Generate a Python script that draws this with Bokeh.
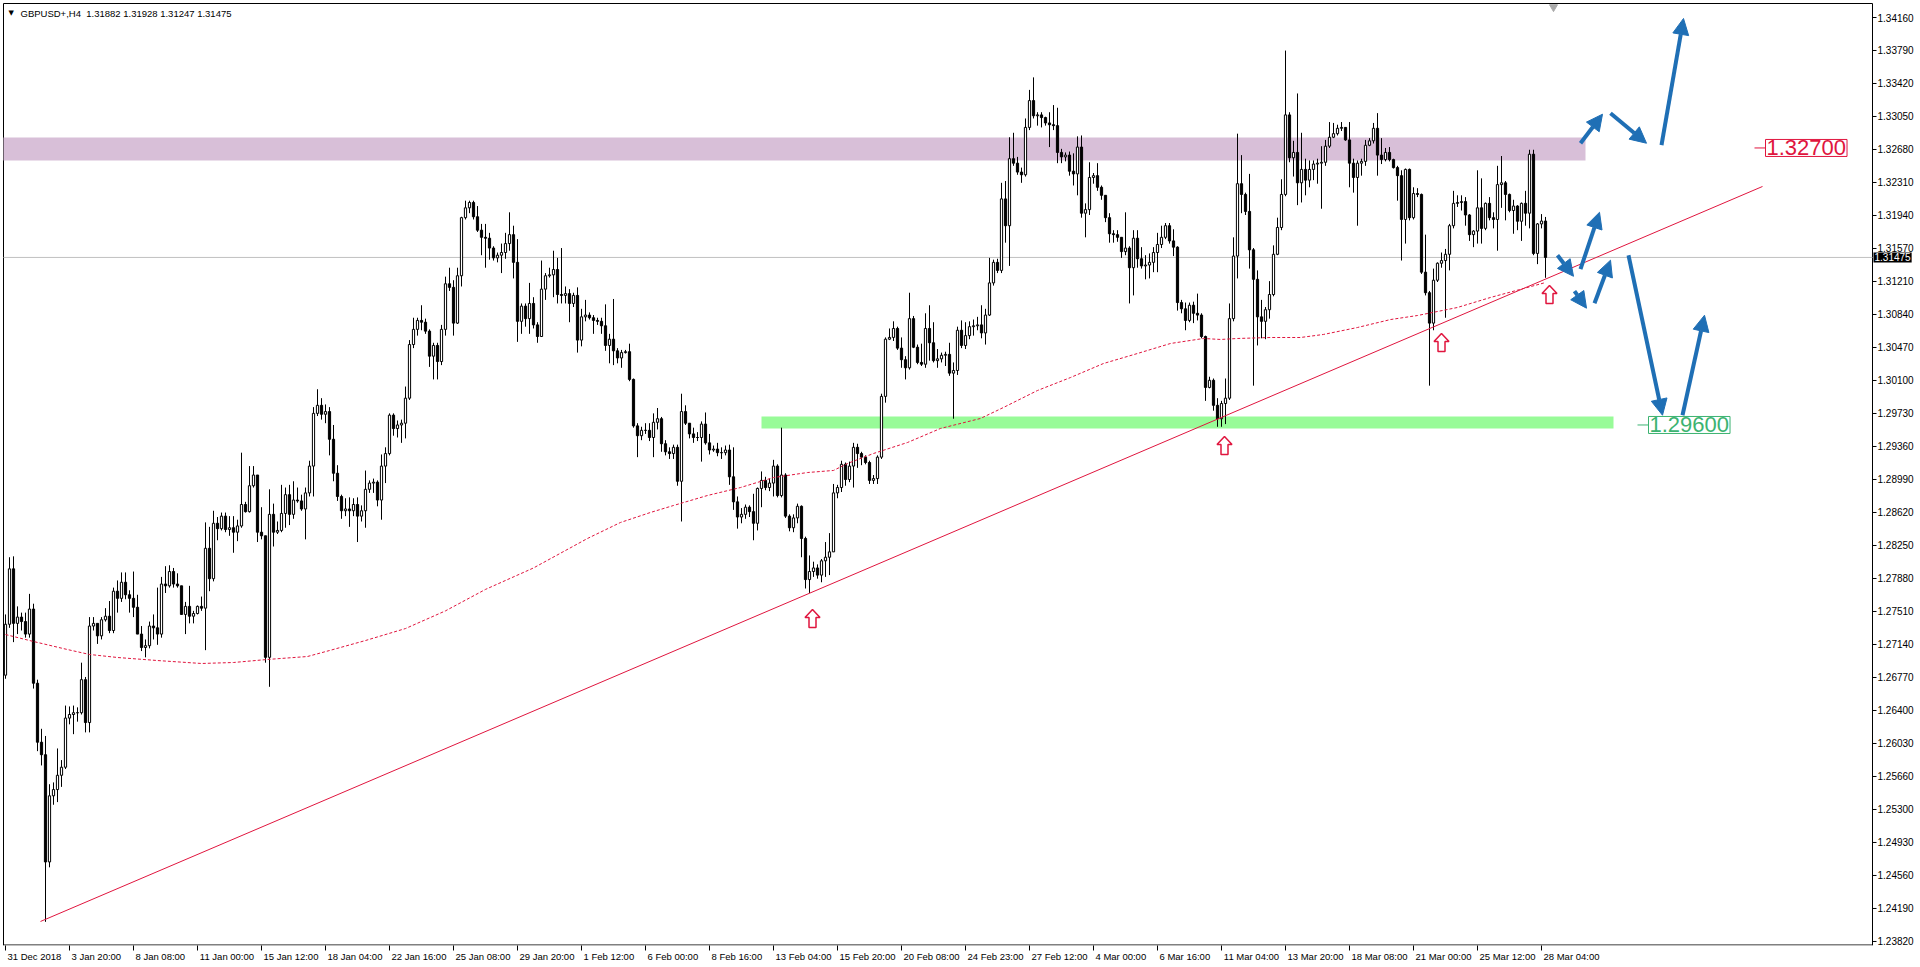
from bokeh.plotting import figure
from bokeh.models import (ColumnDataSource, Range1d, FixedTicker, Label, LinearAxis,
                          Arrow, NormalHead, CustomJSTickFormatter)
from bokeh.embed import file_html
from bokeh.resources import INLINE
from bokeh.core.properties import value

# ---------------- data (prices in 0.0001 units) ----------------
PIP = 10000.0
first_open = 12680
closes = [
    12737, 12799, 12738, 12745, 12740, 12726, 12754, 12671, 12605, 12591,
    12471, 12545, 12552, 12568, 12577, 12632, 12636, 12638, 12638, 12675,
    12627, 12735, 12738, 12724, 12742, 12746, 12730, 12774, 12766, 12784,
    12770, 12766, 12756, 12726, 12711, 12713, 12735, 12733, 12726, 12782,
    12780, 12796, 12782, 12780, 12748, 12757, 12746, 12749, 12757, 12755,
    12822, 12788, 12850, 12844, 12858, 12843, 12845, 12840, 12847, 12871,
    12863, 12892, 12904, 12840, 12836, 12700, 12860, 12840, 12842, 12861,
    12882, 12860, 12876, 12875, 12866, 12884, 12914, 12973, 12982, 12972,
    12975, 12944, 12906, 12880, 12864, 12866, 12864, 12871, 12858, 12864,
    12888, 12895, 12896, 12876, 12914, 12928, 12971, 12956, 12960, 12962,
    12990, 13050, 13067, 13077, 13075, 13065, 13037, 13049, 13031, 13067,
    13118, 13114, 13074, 13127, 13192, 13203, 13209, 13193, 13178, 13170,
    13169, 13158, 13147, 13150, 13153, 13163, 13173, 13142, 13076, 13093,
    13079, 13096, 13072, 13059, 13112, 13127, 13128, 13134, 13106, 13105,
    13107, 13096, 13105, 13055, 13081, 13083, 13080, 13077, 13076, 13071,
    13049, 13056, 13043, 13035, 13041, 13042, 13011, 12959, 12948, 12954,
    12954, 12946, 12963, 12967, 12939, 12930, 12928, 12935, 12897, 12975,
    12962, 12950, 12946, 12946, 12961, 12940, 12932, 12933, 12929, 12929,
    12932, 12902, 12874, 12857, 12860, 12868, 12863, 12850, 12889, 12898,
    12890, 12895, 12914, 12881, 12904, 12858, 12845, 12856, 12869, 12833,
    12787, 12796, 12800, 12792, 12808, 12812, 12818, 12884, 12890, 12916,
    12899, 12914, 12935, 12928, 12924, 12918, 12898, 12900, 12924, 12992,
    13056, 13058, 13068, 13046, 13033, 13024, 13079, 13047, 13030, 13028,
    13068, 13052, 13032, 13034, 13038, 13039, 13018, 13021, 13066, 13049,
    13060, 13070, 13071, 13072, 13063, 13083, 13119, 13142, 13133, 13213,
    13183, 13258, 13253, 13243, 13240, 13293, 13323, 13306, 13307, 13304,
    13298, 13296, 13295, 13265, 13260, 13262, 13244, 13241, 13271, 13197,
    13201, 13237, 13239, 13226, 13217, 13192, 13174, 13173, 13170, 13154,
    13158, 13136, 13169, 13146, 13138, 13139, 13142, 13153, 13162, 13170,
    13183, 13166, 13159, 13097, 13090, 13077, 13094, 13085, 13083, 13059,
    13002, 13010, 12982, 12967, 12984, 12990, 13079, 13149, 13230, 13218,
    13199, 13156, 13123, 13081, 13076, 13089, 13106, 13151, 13181, 13218,
    13307, 13259, 13265, 13231, 13246, 13234, 13246, 13252, 13253, 13254,
    13272, 13282, 13286, 13292, 13293, 13279, 13253, 13237, 13253, 13255,
    13273, 13278, 13292, 13262, 13257, 13265, 13257, 13248, 13239, 13190,
    13246, 13192, 13219, 13218, 13131, 13108, 13074, 13122, 13141, 13144,
    13151, 13183, 13208, 13209, 13210, 13195, 13173, 13177, 13203, 13180,
    13208, 13192, 13190, 13229, 13231, 13218, 13200, 13205, 13188, 13208,
    13197, 13263, 13152, 13185, 13188.2, 13147.5,
]
highs = [
    12748, 12812, 12813, 12757, 12750, 12750, 12771, 12760, 12675, 12620,
    12612, 12558, 12560, 12598, 12585, 12646, 12645, 12646, 12644, 12694,
    12678, 12745, 12745, 12730, 12745, 12755, 12763, 12778, 12786, 12795,
    12795, 12775, 12796, 12770, 12735, 12720, 12740, 12748, 12778, 12790,
    12802, 12803, 12800, 12794, 12780, 12762, 12780, 12752, 12758, 12768,
    12851, 12846, 12864, 12857, 12862, 12862, 12858, 12858, 12854, 12929,
    12874, 12914, 12914, 12904, 12868, 12836, 12888, 12872, 12852, 12893,
    12890, 12893, 12897, 12890, 12882, 12890, 12920, 12980, 13000, 12990,
    12983, 12980, 12960, 12915, 12882, 12878, 12879, 12878, 12879, 12870,
    12909, 12898, 12900, 12898, 12927, 12935, 12973, 12973, 12965, 12966,
    13003, 13055, 13080, 13080, 13094, 13079, 13067, 13052, 13052, 13072,
    13126, 13136, 13122, 13136, 13193, 13211, 13211, 13211, 13205, 13185,
    13185, 13175, 13160, 13153, 13163, 13175, 13198, 13183, 13168, 13096,
    13096, 13119, 13103, 13075, 13144, 13130, 13136, 13155, 13147, 13158,
    13115, 13112, 13108, 13114, 13090, 13100, 13086, 13083, 13080, 13080,
    13095, 13062, 13101, 13046, 13044, 13044, 13051, 13012, 12962, 12958,
    12962, 12962, 12973, 12979, 12969, 12943, 12935, 12938, 12938, 12995,
    12982, 12962, 12957, 12952, 12964, 12974, 12950, 12937, 12940, 12935,
    12937, 12938, 12935, 12880, 12867, 12871, 12870, 12883, 12890, 12908,
    12902, 12900, 12921, 12916, 12957, 12906, 12860, 12860, 12872, 12870,
    12835, 12814, 12807, 12804, 12810, 12829, 12839, 12894, 12893, 12920,
    12918, 12919, 12940, 12939, 12930, 12926, 12920, 12904, 12926, 12995,
    13058, 13068, 13076, 13070, 13058, 13037, 13108, 13082, 13050, 13051,
    13085, 13094, 13075, 13045, 13041, 13042, 13052, 13030, 13070, 13077,
    13075, 13076, 13078, 13081, 13094, 13090, 13147, 13145, 13146, 13231,
    13233, 13282, 13287, 13260, 13248, 13303, 13335, 13349, 13310, 13310,
    13305, 13310, 13318, 13315, 13269, 13265, 13266, 13264, 13283, 13284,
    13208, 13254, 13242, 13253, 13228, 13217, 13197, 13178, 13178, 13170,
    13198, 13160, 13178, 13178, 13159, 13150, 13152, 13159, 13175, 13183,
    13186, 13186, 13179, 13160, 13100, 13097, 13097, 13098, 13107, 13085,
    13060, 13014, 13012, 12990, 12987, 13012, 13096, 13170, 13286, 13262,
    13220, 13241, 13158, 13133, 13100, 13092, 13121, 13161, 13192, 13235,
    13379, 13310, 13278, 13331, 13287, 13258, 13256, 13256, 13258, 13272,
    13279, 13299, 13298, 13296, 13299, 13293, 13299, 13258, 13256, 13258,
    13279, 13281, 13298, 13309, 13281, 13270, 13271, 13258, 13250, 13245,
    13247, 13247, 13226, 13225, 13219, 13173, 13110, 13135, 13142, 13153,
    13157, 13185, 13222, 13217, 13217, 13215, 13196, 13178, 13245, 13236,
    13209, 13215, 13198, 13250, 13261, 13233, 13219, 13212, 13206, 13209,
    13222, 13268, 13268, 13186, 13196, 13192.8,
]
lows = [
    12676, 12733, 12717, 12726, 12730, 12722, 12722, 12665, 12595, 12579,
    12404, 12465, 12535, 12538, 12555, 12575, 12625, 12614, 12628, 12636,
    12616, 12616, 12730, 12715, 12720, 12740, 12727, 12727, 12750, 12762,
    12765, 12750, 12745, 12726, 12707, 12700, 12710, 12720, 12714, 12722,
    12772, 12778, 12778, 12778, 12748, 12726, 12738, 12738, 12748, 12752,
    12708, 12774, 12785, 12831, 12842, 12840, 12836, 12817, 12830, 12845,
    12862, 12862, 12890, 12829, 12832, 12694, 12667, 12824, 12838, 12840,
    12845, 12848, 12855, 12873, 12864, 12832, 12880, 12880, 12970, 12966,
    12962, 12926, 12897, 12875, 12855, 12858, 12846, 12858, 12829, 12852,
    12845, 12884, 12884, 12869, 12854, 12895, 12926, 12948, 12946, 12940,
    12945, 12988, 13046, 13060, 13066, 13062, 13025, 13011, 13011, 13027,
    13060, 13110, 13060, 13073, 13115, 13190, 13197, 13190, 13176, 13150,
    13136, 13145, 13144, 13142, 13130, 13146, 13155, 13124, 13053, 13062,
    13070, 13062, 13068, 13052, 13059, 13100, 13125, 13103, 13096, 13096,
    13096, 13075, 13092, 13041, 13048, 13076, 13078, 13062, 13072, 13062,
    13043, 13029, 13027, 13029, 13024, 13040, 13009, 12957, 12924, 12943,
    12950, 12942, 12924, 12955, 12930, 12926, 12922, 12922, 12892, 12852,
    12960, 12945, 12940, 12942, 12919, 12938, 12927, 12930, 12925, 12922,
    12926, 12893, 12865, 12844, 12850, 12855, 12857, 12831, 12842, 12868,
    12887, 12886, 12880, 12879, 12879, 12856, 12841, 12840, 12850, 12812,
    12777, 12772, 12790, 12788, 12784, 12790, 12792, 12818, 12878, 12885,
    12892, 12896, 12890, 12912, 12915, 12916, 12894, 12894, 12894, 12922,
    12985, 13055, 13054, 13044, 13024, 13011, 13022, 13046, 13028, 13026,
    13024, 13032, 13030, 13024, 13030, 13026, 13015, 12967, 13016, 13046,
    13045, 13056, 13060, 13066, 13057, 13050, 13082, 13116, 13130, 13130,
    13164, 13138, 13250, 13240, 13231, 13238, 13290, 13303, 13295, 13293,
    13295, 13271, 13290, 13253, 13253, 13255, 13239, 13228, 13217, 13192,
    13170, 13195, 13230, 13222, 13212, 13187, 13164, 13164, 13165, 13147,
    13150, 13096, 13105, 13136, 13135, 13123, 13124, 13131, 13131, 13158,
    13168, 13163, 13149, 13088, 13085, 13066, 13075, 13074, 13077, 13057,
    12987, 13001, 12976, 12958, 12958, 12961, 12988, 13076, 13124, 13197,
    13195, 13135, 13004, 13049, 13057, 13056, 13079, 13104, 13150, 13178,
    13216, 13254, 13238, 13206, 13209, 13217, 13226, 13234, 13230, 13202,
    13250, 13270, 13281, 13284, 13289, 13278, 13226, 13220, 13183, 13239,
    13250, 13272, 13275, 13239, 13252, 13255, 13255, 13247, 13211, 13144,
    13163, 13189, 13190, 13215, 13129, 13105, 13004, 13066, 13120, 13136,
    13080, 13133, 13180, 13204, 13200, 13183, 13166, 13159, 13163, 13163,
    13178, 13189, 13180, 13155, 13203, 13189, 13198, 13174, 13178, 13166,
    13183, 13180, 13150, 13140, 13180, 13124.7,
]

x_tick_bars = [0, 16, 32, 48, 64, 80, 96, 112, 128, 144, 160, 176, 192, 208,
               224, 240, 256, 272, 288, 304, 320, 336, 352, 368, 384]
x_tick_labels = ["31 Dec 2018", "3 Jan 20:00", "8 Jan 08:00", "11 Jan 00:00",
                 "15 Jan 12:00", "18 Jan 04:00", "22 Jan 16:00", "25 Jan 08:00",
                 "29 Jan 20:00", "1 Feb 12:00", "6 Feb 00:00", "8 Feb 16:00",
                 "13 Feb 04:00", "15 Feb 20:00", "20 Feb 08:00", "24 Feb 23:00",
                 "27 Feb 12:00", "4 Mar 00:00", "6 Mar 16:00", "11 Mar 04:00",
                 "13 Mar 20:00", "18 Mar 08:00", "21 Mar 00:00", "25 Mar 12:00",
                 "28 Mar 04:00"]
y_tick_labels = ["1.23820", "1.24190", "1.24560", "1.24930", "1.25300", "1.25660",
                 "1.26030", "1.26400", "1.26770", "1.27140", "1.27510", "1.27880",
                 "1.28250", "1.28620", "1.28990", "1.29360", "1.29730", "1.30100",
                 "1.30470", "1.30840", "1.31210", "1.31570", "1.31940", "1.32310",
                 "1.32680", "1.33050", "1.33420", "1.33790", "1.34160"]
y_tick_low, y_tick_high = 1.23820, 1.34160

header_text = "GBPUSD+,H4\u00a0\u00a01.31882 1.31928 1.31247 1.31475"
last_price = 1.31475
last_price_text = "1.31475"

# drawn objects (bar index / price)
res_zone = [-0.5, 395.0, 1.32560, 1.32817]      # x0, x1, bottom, top
sup_zone = [189.0, 402.0, 1.29561, 1.29695]
trend_bars = [8.75, 439.25]
trend_prices = [1.24044, 1.32269]
ma_bars = [0, 7, 15.5, 21, 28, 38, 49, 57, 65.5, 75.5, 81, 90, 100, 110, 120,
           132, 145.5, 153.75, 161.25, 167, 175.5, 183.75, 192, 200.5, 207,
           210.5, 217, 225.5, 233.75, 243.75, 249.5, 258, 266.25, 274.5, 283,
           291.25, 299.5, 303.75, 308, 316.25, 323.75, 329.5, 338, 346.25, 353,
           363, 371.25, 379.5, 385]
ma_values = [1.27255, 1.27177, 1.27087, 1.27032, 1.26998, 1.26964, 1.26931,
             1.26942, 1.26976, 1.27009, 1.27076, 1.27188, 1.27322, 1.27520,
             1.27760, 1.28000, 1.28330, 1.28509, 1.28621, 1.28699, 1.28811,
             1.28900, 1.29012, 1.29068, 1.29091, 1.29169, 1.29281, 1.29404,
             1.29561, 1.29673, 1.29796, 1.29986, 1.30131, 1.30288, 1.30400,
             1.30512, 1.30568, 1.30557, 1.30568, 1.30579, 1.30579, 1.30613,
             1.30691, 1.30780, 1.30825, 1.30915, 1.31027, 1.31127, 1.31194]
arrow_x0 = [393.75, 401.25, 414.0, 388.0, 393.75, 392.25, 397.25, 405.75, 419.25]
arrow_y0 = [1.32753, 1.33089, 1.32731, 1.31499, 1.31343, 1.31097, 1.30963, 1.31499, 1.29709]
arrow_x1 = [399.25, 410.25, 419.5, 392.0, 398.5, 395.25, 401.25, 414.25, 424.75]
arrow_y1 = [1.33078, 1.32753, 1.34149, 1.31264, 1.31980, 1.30907, 1.31444, 1.29709, 1.30828]
mark_bars = [201.75, 304.75, 359.0, 386.0]
mark_prices = [1.27434, 1.29370, 1.30523, 1.31060]
level_texts = ["1.32700", "1.29600"]
level_prices = [1.32700, 1.29600]
level_bars = [440.0, 410.75]

# ---------------- styles / layout ----------------
CRIMSON = "#E0153E"
GREEN_TXT = "#3CB371"
BLUE = "#1F6FB5"
FONT = "Liberation Sans"

FW, FH = 1916, 945
PPB = 4.0                       # pixels per bar
X0 = -1.25
X1 = X0 + FW / PPB
XA = X0 + 1872 / PPB            # price-axis line (right edge of chart area)
PPU = 8936.0                    # pixels per price unit
Y1 = 1.34160 + 17 / PPU
Y0 = Y1 - FH / PPU
dx = lambda px: px / PPB
dy = lambda px: px / PPU

p = figure(x_range=Range1d(X0, X1), y_range=Range1d(Y0, Y1),
           frame_width=FW, frame_height=FH, y_axis_location=None,
           toolbar_location=None, output_backend="svg",
           min_border_left=0, min_border_top=0, min_border_right=0,
           min_border_bottom=0, outline_line_color=None,
           background_fill_color="white", border_fill_color="white")
p.grid.visible = False

# bottom axis: tick marks at the bars
xa = p.xaxis[0]
xa.ticker = FixedTicker(ticks=x_tick_bars)
xa.formatter = CustomJSTickFormatter(code="return '';")
xa.major_label_standoff = 0
xa.major_tick_in = 0
xa.major_tick_out = 5
xa.major_tick_line_color = "black"
xa.minor_tick_line_color = None
xa.axis_line_color = None

# second bottom axis: labels left-aligned to the right of each tick
AW = {"0": 556, "1": 556, "2": 556, "3": 556, "4": 556, "5": 556, "6": 556, "7": 556,
      "8": 556, "9": 556, " ": 278, ":": 278, "D": 722, "J": 500, "F": 611, "M": 833,
      "e": 556, "c": 500, "a": 556, "n": 556, "b": 556, "r": 333}
LBL_PX = 9.5
centers = [b + dx(2 + sum(AW.get(ch, 556) for ch in t) * LBL_PX / 1000 / 2)
           for b, t in zip(x_tick_bars, x_tick_labels)]
xa2 = LinearAxis(ticker=FixedTicker(ticks=centers),
                 formatter=CustomJSTickFormatter(args=dict(labels=x_tick_labels),
                                                 code="return labels[index];"),
                 major_tick_in=0, major_tick_out=0, minor_tick_line_color=None,
                 axis_line_color=None, major_label_standoff=0,
                 major_label_text_font=FONT, major_label_text_font_size="9.5px",
                 major_label_text_color="black")
p.add_layout(xa2, "below")

# chart border
p.segment(x0=[X0 + dx(3), X0 + dx(3), XA, X0 + dx(3)],
          y0=[Y0, Y1 - dy(3), Y0, Y0 + dy(0.5)],
          x1=[X0 + dx(3), XA, XA, XA],
          y1=[Y1 - dy(3), Y1 - dy(3), Y1 - dy(3), Y0 + dy(0.5)],
          line_color="black", line_width=1)

# zones
p.quad(left=[res_zone[0]], right=[res_zone[1]], bottom=[res_zone[2]], top=[res_zone[3]],
       fill_color="#D8BFD8", line_color=None)
p.quad(left=[sup_zone[0]], right=[sup_zone[1]], bottom=[sup_zone[2]], top=[sup_zone[3]],
       fill_color="#98FB98", line_color=None)

# current price line
p.segment(x0=[X0 + dx(3)], y0=[last_price], x1=[XA], y1=[last_price],
          line_color="#C0C0C0", line_width=1)

# candles
n = len(closes)
opens = [first_open] + closes[:-1]
o = [v / PIP for v in opens]
c = [v / PIP for v in closes]
h = [v / PIP for v in highs]
l = [v / PIP for v in lows]
src = ColumnDataSource(dict(
    x=list(range(n)), h=h, l=l,
    bt=[max(a, b) for a, b in zip(o, c)], bb=[min(a, b) for a, b in zip(o, c)],
    fill=["white" if cc >= oo else "black" for oo, cc in zip(o, c)]))
p.segment(x0="x", y0="l", x1="x", y1="h", source=src, line_color="black", line_width=1)
p.vbar(x="x", top="bt", bottom="bb", width=0.55, fill_color="fill",
       line_color="black", line_width=1, source=src)

# moving average and trend line
p.line(ma_bars, ma_values, line_color=CRIMSON, line_width=1, line_dash="3 2")
p.line(trend_bars, trend_prices, line_color=CRIMSON, line_width=1)

# blue arrows
asrc = ColumnDataSource(dict(x0=arrow_x0, y0=arrow_y0, x1=arrow_x1, y1=arrow_y1))
p.add_layout(Arrow(end=NormalHead(size=16, fill_color=BLUE, line_color=BLUE),
                   x_start="x0", y_start="y0", x_end="x1", y_end="y1", source=asrc,
                   line_color=BLUE, line_width=4))

# red hollow up-arrow marks
shape = [(0, 9), (7.5, 1), (3.5, 1), (3.5, -9), (-3.5, -9), (-3.5, 1), (-7.5, 1)]
mxs = [[b + dx(sx) for sx, sy in shape] for b in mark_bars]
mys = [[pr + dy(sy) for sx, sy in shape] for pr in mark_prices]
p.patches(mxs, mys, fill_color="white", line_color=CRIMSON, line_width=1.5)

# level labels
for txt, pr, bx, col in zip(level_texts, level_prices, level_bars, [CRIMSON, GREEN_TXT]):
    p.segment(x0=[bx - dx(11)], y0=[pr], x1=[bx], y1=[pr], line_color=col, line_width=1)
    p.add_layout(Label(x=bx, y=pr, text=txt, text_font=FONT, text_font_size="22px",
                       text_color=col, text_align="left", text_baseline="middle",
                       background_fill_color="white", border_line_color=col,
                       border_line_width=1, padding=1))

# right price scale (drawn inside the canvas so the price tag can overlap it)
y_step = (y_tick_high - y_tick_low) / (len(y_tick_labels) - 1)
y_ticks = [y_tick_low + i * y_step for i in range(len(y_tick_labels))]
p.segment(x0=[XA] * len(y_ticks), y0=y_ticks, x1=[XA + dx(4)] * len(y_ticks), y1=y_ticks,
          line_color="black", line_width=1)
p.text(x=[XA + dx(5)] * len(y_ticks), y=y_ticks, text=y_tick_labels,
       text_font=value(FONT), text_font_size="10px", text_color="black",
       text_align="left", text_baseline="middle")
p.add_layout(Label(x=XA, y=last_price, x_offset=1, text=last_price_text, text_font=FONT,
                   text_font_size="10px", text_color="white", text_align="left",
                   text_baseline="middle", background_fill_color="black", padding=1))

# header
p.add_layout(Label(x=X0 + dx(8), y=Y1 - dy(12.5), text="\u25bc", text_font="DejaVu Sans",
                   text_font_size="7px", text_color="black", text_baseline="middle"))
p.add_layout(Label(x=X0 + dx(20), y=Y1 - dy(12.5), text=header_text, text_font=FONT,
                   text_font_size="9.5px", text_color="black", text_baseline="middle"))

# chart shift marker
p.scatter([387], [Y1 - dy(6.5)], marker="inverted_triangle", size=8,
          fill_color="#A9A9A9", line_color="#A9A9A9")

open("out.html", "w").write(file_html(p, INLINE))
